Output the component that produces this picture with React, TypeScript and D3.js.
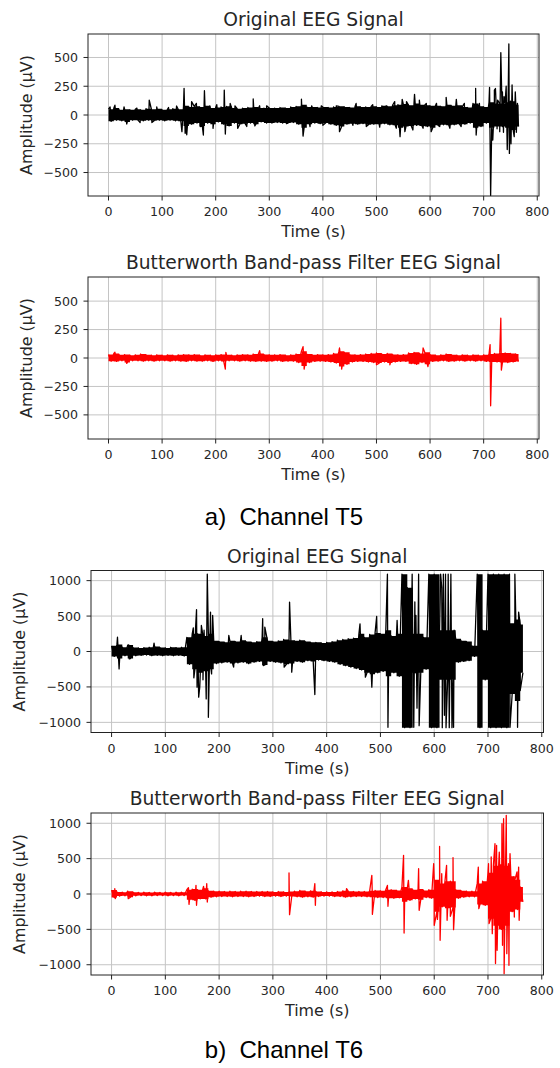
import React from 'react';
import * as d3 from 'd3';

const W = 560;
const H = 1068;

// ---- axis ticks ----
const xTicks = [0, 100, 200, 300, 400, 500, 600, 700, 800];
const yTicksT5 = [-500, -250, 0, 250, 500];
const yTicksT6 = [-1000, -500, 0, 500, 1000];
const xDomain: [number, number] = [-38.25, 803.25];
const binStep = 10; // seconds per envelope bin
const traceEnd = 765; // last sample time (s)

// ---- Channel T5, original (envelope per 10 s bin, µV) ----
const t5RawHi = [50, 60, 45, 50, 45, 50, 45, 55, 50, 55, 45, 50, 55, 50, 80, 70, 75, 70, 80, 60, 65, 70, 75, 60, 55, 60, 65, 70, 60, 60, 60, 60, 65, 60, 70, 75, 90, 70, 70, 65, 70, 65, 70, 75, 70, 65, 75, 70, 70, 75, 70, 80, 75, 85, 90, 95, 85, 100, 90, 85, 80, 80, 75, 90, 80, 85, 70, 65, 100, 75, 70, 110, 100, 100, 110, 120, 90];
const t5RawLo = [-55, -45, -50, -60, -45, -45, -50, -45, -50, -45, -50, -45, -50, -55, -95, -80, -70, -95, -70, -80, -60, -80, -95, -70, -80, -75, -70, -80, -60, -70, -70, -65, -70, -70, -65, -80, -110, -80, -70, -75, -70, -80, -90, -100, -80, -75, -80, -75, -85, -80, -80, -75, -85, -90, -110, -100, -95, -90, -95, -100, -110, -90, -85, -90, -85, -80, -80, -70, -110, -100, -70, -110, -100, -100, -110, -130, -100];
const t5RawSpikes: [number, number][] = [[3, 70], [12, 85], [29, 70], [34, -78], [53, 60], [59, -65], [76, 130], [81, -65], [90, 70], [112, 65], [127, 78], [137, -145], [141, 232], [143, -159], [146, -172], [155, 116], [164, 101], [171, -100], [177, -174], [179, 211], [189, 80], [195, -116], [202, 90], [216, 217], [218, -166], [227, 100], [236, 80], [241, -116], [258, -100], [270, 139], [273, -95], [282, 80], [295, 80], [332, -75], [360, 137], [363, -183], [376, -100], [379, 80], [397, 80], [400, -90], [425, 80], [431, -145], [456, -90], [462, 101], [481, -100], [493, 90], [506, -105], [518, 80], [534, 116], [537, -115], [544, -188], [548, 136], [553, -145], [556, 116], [568, -130], [571, 180], [580, 130], [587, -115], [593, 101], [602, -145], [612, 101], [618, -100], [630, 154], [637, -115], [649, 136], [658, -100], [664, 101], [685, 232], [686, -174], [692, 101], [695, -100], [711, 240], [713, -700], [717, -218], [720, 217], [722, 230], [725, -120], [726, 130], [730, -145], [732, 542], [735, 200], [737, -150], [738, 160], [742, 250], [744, -300], [747, 617], [748, -334], [751, -250], [753, 261], [757, -188], [759, 200], [761, -150], [763, 101]];

// ---- Channel T5, Butterworth band-pass ----
const t5FiltHi = [30, 40, 28, 30, 25, 28, 35, 28, 25, 28, 25, 28, 25, 28, 30, 28, 30, 25, 28, 25, 28, 30, 28, 25, 28, 30, 28, 35, 40, 30, 28, 28, 30, 25, 28, 35, 60, 35, 28, 30, 28, 30, 40, 60, 50, 30, 28, 30, 35, 40, 45, 35, 40, 30, 28, 30, 45, 50, 40, 50, 30, 25, 28, 35, 28, 25, 28, 25, 28, 25, 28, 35, 40, 45, 45, 40, 35];
const t5FiltLo = [-28, -30, -25, -40, -25, -25, -28, -25, -28, -25, -25, -28, -25, -28, -30, -25, -28, -28, -25, -30, -25, -30, -25, -25, -28, -25, -28, -30, -28, -30, -28, -25, -30, -28, -28, -40, -70, -40, -30, -28, -30, -35, -45, -75, -55, -35, -30, -30, -35, -40, -45, -35, -45, -35, -30, -30, -50, -55, -40, -55, -30, -28, -25, -30, -28, -25, -28, -25, -28, -25, -30, -35, -35, -40, -40, -35, -30];
const t5FiltSpikes: [number, number][] = [[12, 50], [34, -47], [218, -97], [219, 50], [282, 65], [363, 100], [365, -97], [431, 88], [435, -97], [500, -60], [525, -60], [587, 88], [596, -75], [712, 118], [713, -420], [732, 350], [733, -106]];

// ---- Channel T6, original ----
const t6RawHi = [80, 100, 60, 90, 55, 50, 55, 60, 70, 55, 50, 60, 55, 60, 200, 250, 250, 220, 250, 150, 140, 130, 150, 140, 160, 140, 130, 140, 200, 150, 140, 150, 170, 160, 150, 160, 140, 130, 130, 120, 130, 140, 160, 170, 180, 190, 250, 200, 240, 260, 250, 300, 220, 250, 1090, 900, 250, 250, 200, 1090, 1090, 300, 300, 300, 180, 150, 140, 80, 1090, 300, 1090, 1090, 1090, 1090, 400, 450, 380];
const t6RawLo = [-70, -100, -60, -100, -60, -55, -50, -60, -55, -60, -55, -60, -55, -65, -180, -250, -300, -280, -250, -170, -160, -150, -170, -160, -150, -170, -150, -140, -190, -140, -150, -160, -180, -170, -140, -150, -130, -140, -120, -130, -140, -150, -180, -200, -220, -240, -260, -300, -320, -300, -280, -350, -300, -350, -1075, -1075, -300, -300, -250, -1075, -1075, -400, -400, -400, -150, -140, -130, -70, -1075, -400, -1075, -1075, -1075, -1075, -600, -700, -300];
const t6RawSpikes: [number, number][] = [[11, 202], [14, -245], [32, 94], [33, -104], [79, 118], [152, 334], [153, -372], [156, 300], [158, 589], [159, -504], [162, -645], [164, -500], [167, 367], [170, -400], [172, 300], [176, -669], [178, 1090], [180, -928], [184, 556], [186, -316], [188, 509], [218, 226], [227, -221], [241, 226], [281, 462], [282, -198], [285, 344], [321, -221], [331, 697], [335, -292], [378, -607], [462, 391], [472, -362], [484, -504], [493, 494], [513, 1090], [514, -1069], [531, 438], [559, 1090], [562, -1069], [564, 700], [566, 509], [568, -800], [571, 1090], [572, -1046], [612, 1090], [614, 900], [615, -1075], [617, 1090], [619, -900], [621, 1090], [622, -1075], [626, 1090], [628, -1075], [631, 1090], [633, -1075], [636, -1069], [637, 300], [648, 155], [740, 1090], [741, -1069], [750, 1090], [755, -1069], [757, 556], [760, -550]];

// ---- Channel T6, Butterworth band-pass ----
const t6FiltHi = [55, 30, 25, 40, 25, 22, 25, 22, 25, 22, 25, 22, 25, 25, 60, 70, 60, 80, 45, 40, 40, 35, 40, 35, 40, 40, 35, 35, 35, 35, 30, 35, 30, 35, 40, 50, 40, 45, 35, 30, 30, 30, 35, 45, 40, 35, 35, 35, 45, 50, 45, 60, 60, 50, 100, 80, 60, 70, 50, 60, 200, 150, 180, 180, 60, 45, 40, 40, 150, 180, 300, 400, 420, 400, 250, 200, 100];
const t6FiltLo = [-50, -30, -25, -45, -25, -22, -25, -25, -22, -22, -25, -22, -25, -22, -80, -90, -70, -70, -45, -40, -35, -35, -40, -35, -35, -40, -35, -30, -35, -35, -30, -35, -30, -35, -40, -45, -40, -45, -35, -30, -30, -35, -35, -45, -40, -35, -35, -40, -45, -50, -50, -60, -60, -55, -110, -90, -70, -80, -50, -60, -250, -180, -200, -190, -60, -45, -40, -40, -150, -160, -350, -450, -500, -450, -250, -220, -110];
const t6FiltSpikes: [number, number][] = [[6, 75], [7, -66], [31, -66], [143, 89], [144, -146], [157, 122], [158, -160], [171, 108], [177, 146], [178, -113], [330, 297], [331, -292], [378, 146], [379, -160], [437, 75], [484, 264], [485, -287], [513, 122], [514, -174], [543, 546], [544, -551], [552, 193], [571, 358], [572, -231], [599, 428], [600, -443], [606, -360], [610, 673], [611, -655], [614, 287], [623, 405], [624, -372], [630, -316], [635, 513], [636, -504], [682, 381], [683, -207], [701, 428], [702, -419], [706, 523], [708, -560], [713, 711], [714, -984], [716, 688], [717, -796], [721, 593], [726, 994], [727, -725], [729, 1064], [730, -1126], [734, 1112], [735, -843], [738, 428], [739, -1008], [741, 570], [748, 240], [749, -325], [754, 311], [757, 381], [758, -372]];

const titles = ['Original EEG Signal', 'Butterworth Band-pass Filter EEG Signal'];
const captions = ['a)  Channel T5', 'b)  Channel T6'];

type PanelCfg = {
  title: string;
  color: string;
  hi: number[];
  lo: number[];
  spikes: [number, number][];
  yTicks: number[];
  yMax: number;
  box: [number, number, number, number];
  yLabelX: number;
};

const panels: PanelCfg[] = [
  { title: titles[0], color: '#000000', hi: t5RawHi, lo: t5RawLo, spikes: t5RawSpikes, yTicks: yTicksT5, yMax: 704, box: [88, 539, 34, 196], yLabelX: 26 },
  { title: titles[1], color: '#ff0000', hi: t5FiltHi, lo: t5FiltLo, spikes: t5FiltSpikes, yTicks: yTicksT5, yMax: 712, box: [88, 539, 277, 439], yLabelX: 26 },
  { title: titles[0], color: '#000000', hi: t6RawHi, lo: t6RawLo, spikes: t6RawSpikes, yTicks: yTicksT6, yMax: 1143, box: [91, 543.5, 570.5, 732.5], yLabelX: 19.7 },
  { title: titles[1], color: '#ff0000', hi: t6FiltHi, lo: t6FiltLo, spikes: t6FiltSpikes, yTicks: yTicksT6, yMax: 1145, box: [91, 543.5, 813, 975], yLabelX: 19.7 },
];

function buildTrace(hi: number[], lo: number[], spikes: [number, number][]): [number, number][] {
  const pts: [number, number][] = [];
  hi.forEach((h, i) => {
    pts.push([i * binStep, h]);
    pts.push([Math.min(i * binStep + binStep / 2, traceEnd), lo[i]]);
  });
  spikes.forEach((s) => pts.push([s[0], s[1]]));
  pts.sort((a, b) => a[0] - b[0]);
  return pts;
}

type Bin = { t: number; hi: number; lo: number };
function buildBins(hi: number[], lo: number[]): Bin[] {
  const bins: Bin[] = hi.map((h, i) => ({ t: i * binStep, hi: h, lo: lo[i] }));
  const last = bins[bins.length - 1];
  bins.push({ t: traceEnd, hi: last.hi, lo: last.lo });
  return bins;
}

const FONT = "'DejaVu Sans', sans-serif";
const TXT = '#262626';

function fmt(v: number) {
  return v < 0 ? '\u2212' + Math.abs(v) : String(v);
}

function Panel({ p, id }: { p: PanelCfg; id: number }) {
  const [l, r, t, b] = p.box;
  const x = d3.scaleLinear().domain(xDomain).range([l, r]);
  const y = d3.scaleLinear().domain([-p.yMax, p.yMax]).range([b, t]);
  const pts = buildTrace(p.hi, p.lo, p.spikes);
  const bins = buildBins(p.hi, p.lo);
  const line = d3.line<[number, number]>().x((d) => x(d[0])).y((d) => y(d[1]));
  const area = d3
    .area<Bin>()
    .curve(d3.curveStepAfter)
    .x((d) => x(d.t))
    .y0((d) => y(d.lo))
    .y1((d) => y(d.hi));
  const clipId = `clip${id}`;
  const cx = (l + r) / 2;
  const cy = (t + b) / 2;
  return (
    <g>
      <defs>
        <clipPath id={clipId}>
          <rect x={l} y={t} width={r - l} height={b - t} />
        </clipPath>
      </defs>
      <g stroke="#c4c4c4" strokeWidth={1}>
        {xTicks.map((v) => (
          <line key={'gx' + v} x1={x(v)} x2={x(v)} y1={t} y2={b} />
        ))}
        {p.yTicks.map((v) => (
          <line key={'gy' + v} x1={l} x2={r} y1={y(v)} y2={y(v)} />
        ))}
      </g>
      <g clipPath={`url(#${clipId})`}>
        <path d={area(bins) || ''} fill={p.color} stroke="none" />
        <path d={line(pts) || ''} fill="none" stroke={p.color} strokeWidth={1.3} strokeLinejoin="round" />
      </g>
      <rect x={l} y={t} width={r - l} height={b - t} fill="none" stroke="#222" strokeWidth={1} />
      <g stroke="#222" strokeWidth={1}>
        {xTicks.map((v) => (
          <line key={'tx' + v} x1={x(v)} x2={x(v)} y1={b} y2={b + 4.5} />
        ))}
        {p.yTicks.map((v) => (
          <line key={'ty' + v} x1={l - 4.5} x2={l} y1={y(v)} y2={y(v)} />
        ))}
      </g>
      <g fontFamily={FONT} fontSize={12.6} fill={TXT}>
        {xTicks.map((v) => (
          <text key={'lx' + v} x={x(v)} y={b + 20} textAnchor="middle">
            {fmt(v)}
          </text>
        ))}
        {p.yTicks.map((v) => (
          <text key={'ly' + v} x={l - 10} y={y(v)} dy="0.36em" textAnchor="end">
            {fmt(v)}
          </text>
        ))}
      </g>
      <text x={cx} y={b + 41} textAnchor="middle" fontFamily={FONT} fontSize={15.9} fill={TXT}>
        Time (s)
      </text>
      <text
        transform={`translate(${p.yLabelX},${cy}) rotate(-90)`}
        textAnchor="middle"
        dominantBaseline="central"
        fontFamily={FONT}
        fontSize={15.9}
        fill={TXT}
      >
        Amplitude (µV)
      </text>
      <text x={cx} y={t - 8} textAnchor="middle" fontFamily={FONT} fontSize={18.7} fill={TXT}>
        {p.title}
      </text>
    </g>
  );
}

export default function App() {
  return (
    <svg width={W} height={H} style={{ position: 'absolute', left: 0, top: 0, background: '#fff' }}>
      <rect x={0} y={0} width={W} height={H} fill="#fff" />
      {panels.map((p, i) => (
        <Panel key={i} p={p} id={i} />
      ))}
      <text x={284} y={525} textAnchor="middle" fontFamily="'Liberation Sans', Arial, sans-serif" fontSize={24} fill="#000" style={{ whiteSpace: 'pre' }}>
        {captions[0]}
      </text>
      <text x={284} y={1058} textAnchor="middle" fontFamily="'Liberation Sans', Arial, sans-serif" fontSize={24} fill="#000" style={{ whiteSpace: 'pre' }}>
        {captions[1]}
      </text>
    </svg>
  );
}
